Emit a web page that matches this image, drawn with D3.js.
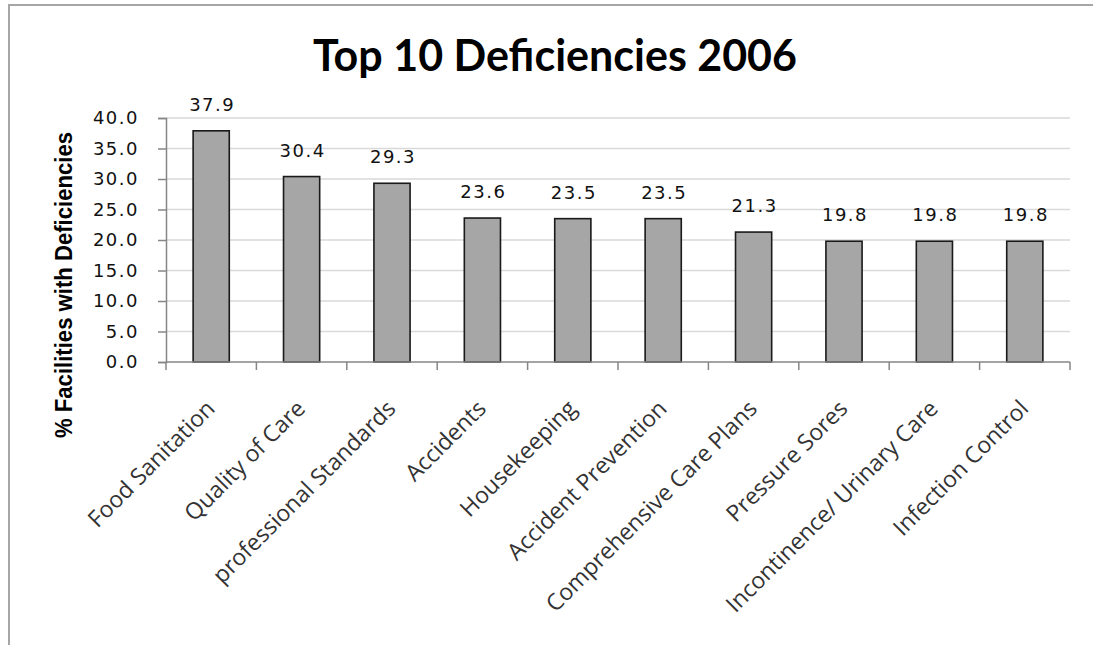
<!DOCTYPE html>
<html>
<head>
<meta charset="utf-8">
<script src="https://cdn.jsdelivr.net/npm/d3@7.9.0/dist/d3.min.js"></script>
<style>
  body { margin: 0; background: #fff; }
  svg { display: block; }
</style>
</head>
<body>
<svg id="chart" width="1093" height="645"></svg>
<script>
// ---- data ----
const categories = [
  'Food Sanitation', 'Quality of Care', 'professional Standards', 'Accidents',
  'Housekeeping', 'Accident Prevention', 'Comprehensive Care Plans',
  'Pressure Sores', 'Incontinence/ Urinary Care', 'Infection Control'
];
const values = [37.9, 30.4, 29.3, 23.6, 23.5, 23.5, 21.3, 19.8, 19.8, 19.8];
const yTicks = [0, 5, 10, 15, 20, 25, 30, 35, 40];

const svg = d3.select('#chart');

// outer chart border (cropped at right/bottom)
svg.append('rect')
  .attr('x', 9).attr('y', 5)
  .attr('width', 1200).attr('height', 800)
  .attr('fill', 'none')
  .attr('stroke', '#a6a6a6')
  .attr('stroke-width', 2);

const plot = { left: 166, right: 1070, top: 118, bottom: 362 };

const x = d3.scaleBand()
  .domain(categories)
  .range([plot.left, plot.right])
  .paddingInner(0.6)
  .paddingOuter(0.3);

const y = d3.scaleLinear()
  .domain([0, 40])
  .range([plot.bottom, plot.top]);

// gridlines
svg.append('g')
  .selectAll('line')
  .data(yTicks.slice(1))
  .join('line')
  .attr('x1', plot.left).attr('x2', plot.right)
  .attr('y1', d => y(d)).attr('y2', d => y(d))
  .attr('stroke', '#d9d9d9')
  .attr('stroke-width', 1.5);

// bars
svg.append('g')
  .selectAll('rect')
  .data(values)
  .join('rect')
  .attr('x', (d, i) => x(categories[i]))
  .attr('y', d => y(d))
  .attr('width', x.bandwidth())
  .attr('height', d => y(0) - y(d))
  .attr('fill', '#a6a6a6')
  .attr('stroke', '#1a1a1a')
  .attr('stroke-width', 1.6);

// y axis
const yAxis = svg.append('g')
  .attr('transform', `translate(${plot.left},0)`)
  .call(d3.axisLeft(y).tickValues(yTicks).tickFormat(d3.format('.1f')).tickSize(8).tickPadding(19));
yAxis.select('.domain').attr('stroke', '#868686').attr('stroke-width', 1.5);
yAxis.selectAll('.tick line').attr('stroke', '#868686').attr('stroke-width', 1.5);
yAxis.selectAll('.tick text')
  .attr('font-family', 'DejaVu Sans')
  .attr('font-size', 18)
  .attr('letter-spacing', 1.5)
  .attr('fill', '#111');

// x axis: ticks at category boundaries
const step = x.step();
const boundaries = d3.range(categories.length + 1).map(i => plot.left + i * step);
const xAxis = svg.append('g');
xAxis.append('line')
  .attr('x1', plot.left).attr('x2', plot.right)
  .attr('y1', plot.bottom).attr('y2', plot.bottom)
  .attr('stroke', '#868686').attr('stroke-width', 1.5);
xAxis.selectAll('line.tk')
  .data(boundaries)
  .join('line')
  .attr('class', 'tk')
  .attr('x1', d => d).attr('x2', d => d)
  .attr('y1', plot.bottom).attr('y2', plot.bottom + 8)
  .attr('stroke', '#868686').attr('stroke-width', 1.5);

// category labels
svg.append('g')
  .selectAll('text')
  .data(categories)
  .join('text')
  .attr('transform', d => `translate(${x(d) + x.bandwidth() / 2 + 5},410) rotate(-45)`)
  .attr('text-anchor', 'end')
  .attr('font-family', 'Open Sans')
  .attr('font-size', 23)
  .attr('fill', '#333')
  .text(d => d);

// value labels
svg.append('g')
  .selectAll('text')
  .data(values)
  .join('text')
  .attr('x', (d, i) => x(categories[i]) + x.bandwidth() / 2 + 1)
  .attr('y', d => y(d) - 20)
  .attr('text-anchor', 'middle')
  .attr('font-family', 'DejaVu Sans')
  .attr('font-size', 18)
  .attr('letter-spacing', 1.5)
  .attr('fill', '#111')
  .text(d => d.toFixed(1));

// title
svg.append('text')
  .attr('x', 555).attr('y', 71)
  .attr('text-anchor', 'middle')
  .attr('font-family', 'Lato')
  .attr('font-weight', 'bold')
  .attr('font-size', 43)
  .attr('fill', '#000')
  .text('Top 10 Deficiencies 2006');

// y axis title
svg.append('text')
  .attr('transform', 'translate(72,285) rotate(-90)')
  .attr('text-anchor', 'middle')
  .attr('font-family', 'Liberation Sans')
  .attr('font-weight', 'bold')
  .attr('font-size', 23)
  .attr('textLength', 306)
  .attr('lengthAdjust', 'spacingAndGlyphs')
  .attr('fill', '#000')
  .text('% Facilities with Deficiencies');
</script>
</body>
</html>
